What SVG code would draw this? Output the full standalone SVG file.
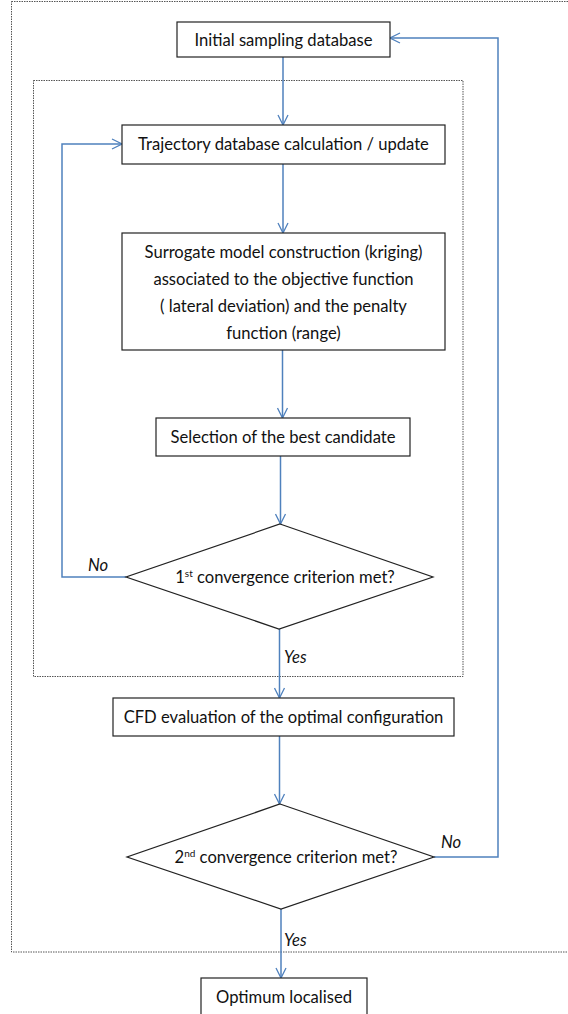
<svg xmlns="http://www.w3.org/2000/svg" width="568" height="1014" viewBox="0 0 568 1014">
<defs>
<marker id="arr" markerWidth="12" markerHeight="12" viewBox="0 0 12 12" refX="11" refY="6" orient="auto" markerUnits="userSpaceOnUse">
<path d="M1,1 L11,6 L1,11" fill="none" stroke="#4F81BD" stroke-width="1.3"/>
</marker>
</defs>
<style>
.frame{fill:none;stroke:#555;stroke-width:1;stroke-dasharray:1.5,1}
.box{fill:#fff;stroke:#222;stroke-width:1.2}
.t{font-family:Lato,"Liberation Sans",sans-serif;font-size:16.6px;fill:#111;text-anchor:middle}
.lbl{font-family:Lato,"Liberation Sans",sans-serif;font-size:16.6px;fill:#111;font-style:italic}
.c{fill:none;stroke:#4F81BD;stroke-width:1.5}
.sup{font-size:10px}
</style>
<rect width="568" height="1014" fill="#fff"/>
<rect id="outer-frame" class="frame" x="11.5" y="1.5" width="560" height="950.5"/>
<rect id="inner-frame" class="frame" x="33.5" y="80.5" width="429.5" height="596"/>
<g id="connectors">
<path class="c" d="M283,57 V125" marker-end="url(#arr)"/>
<path class="c" d="M283,164 V233" marker-end="url(#arr)"/>
<path class="c" d="M282.5,350 V418" marker-end="url(#arr)"/>
<path class="c" d="M280.5,456 V524" marker-end="url(#arr)"/>
<path class="c" d="M126,577 H62 V144 H122" marker-end="url(#arr)"/>
<path class="c" d="M279.5,629 V698" marker-end="url(#arr)"/>
<path class="c" d="M279.5,736 V804" marker-end="url(#arr)"/>
<path class="c" d="M434,857 H498 V38 H390" marker-end="url(#arr)"/>
<path class="c" d="M281,909 V978" marker-end="url(#arr)"/>
</g>
<g id="n-initial">
<rect class="box" x="177" y="22" width="213" height="35"/>
<text class="t" x="283.5" y="45.5">Initial sampling database</text>
</g>
<g id="n-trajectory">
<rect class="box" x="122" y="125" width="323" height="39"/>
<text class="t" x="283.5" y="149.5">Trajectory database calculation / update</text>
</g>
<g id="n-surrogate">
<rect class="box" x="122" y="233" width="323" height="117"/>
<text class="t" x="283.5" y="257.5">Surrogate model construction (kriging)</text>
<text class="t" x="283.5" y="284.5">associated to the objective function</text>
<text class="t" x="283.5" y="311.5">( lateral deviation) and the penalty</text>
<text class="t" x="283.5" y="338.5">function (range)</text>
</g>
<g id="n-selection">
<rect class="box" x="156" y="418" width="254" height="38"/>
<text class="t" x="283" y="442.5">Selection of the best candidate</text>
</g>
<g id="n-crit1">
<polygon class="box" points="280,524 433,577 279,629 126,577"/>
<text class="t" x="285" y="582.5">1<tspan class="sup" dy="-6">st</tspan><tspan dy="6"> convergence criterion met?</tspan></text>
</g>
<g id="n-cfd">
<rect class="box" x="113" y="698" width="341" height="38"/>
<text class="t" x="283.5" y="722.5">CFD evaluation of the optimal configuration</text>
</g>
<g id="n-crit2">
<polygon class="box" points="280,804 434,857 281,909 127,857"/>
<text class="t" x="286" y="862.5">2<tspan class="sup" dy="-6">nd</tspan><tspan dy="6"> convergence criterion met?</tspan></text>
</g>
<g id="n-optimum">
<rect class="box" x="201" y="978" width="166" height="40"/>
<text class="t" x="284" y="1002.5">Optimum localised</text>
</g>
<g id="labels">
<text class="lbl" x="88" y="571">No</text>
<text class="lbl" x="284" y="663">Yes</text>
<text class="lbl" x="441" y="848">No</text>
<text class="lbl" x="284" y="946">Yes</text>
</g>
</svg>
